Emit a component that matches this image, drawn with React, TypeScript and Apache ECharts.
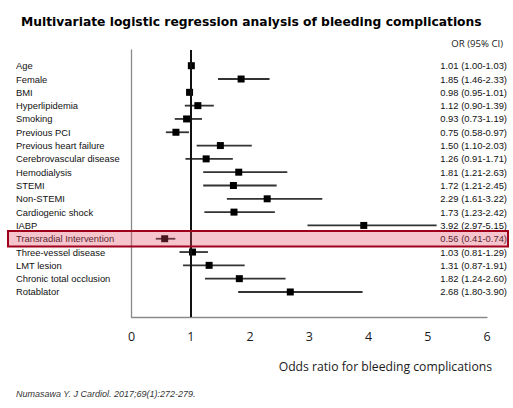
import React, { useEffect, useRef } from "react";
import * as echarts from "echarts";

const labels = [
  "Age", "Female", "BMI", "Hyperlipidemia", "Smoking", "Previous PCI",
  "Previous heart failure", "Cerebrovascular disease", "Hemodialysis", "STEMI",
  "Non-STEMI", "Cardiogenic shock", "IABP", "Transradial Intervention",
  "Three-vessel disease", "LMT lesion", "Chronic total occlusion", "Rotablator",
];
const oddsRatio = [1.01, 1.85, 0.98, 1.12, 0.93, 0.75, 1.50, 1.26, 1.81, 1.72, 2.29, 1.73, 3.92, 0.56, 1.03, 1.31, 1.82, 2.68];
const ciLow = [1.00, 1.46, 0.95, 0.90, 0.73, 0.58, 1.10, 0.91, 1.21, 1.21, 1.61, 1.23, 2.97, 0.41, 0.81, 0.87, 1.24, 1.80];
const ciHigh = [1.03, 2.33, 1.01, 1.39, 1.19, 0.97, 2.03, 1.71, 2.63, 2.45, 3.22, 2.42, 5.15, 0.74, 1.29, 1.91, 2.60, 3.90];
const xTicks = [0, 1, 2, 3, 4, 5, 6];
const highlighted = "Transradial Intervention";
const referenceOR = 1;

const LABEL_FONT = "9.4px 'Liberation Sans', Arial, sans-serif";

export default function App() {
  const ref = useRef<HTMLDivElement>(null);
  useEffect(() => {
    if (!ref.current) return;
    const chart = echarts.init(ref.current, undefined, { renderer: "svg" });
    const rows = labels.map((l, i) => [oddsRatio[i], i, ciLow[i], ciHigh[i], l]);
    const hiIdx = labels.indexOf(highlighted);
    chart.setOption({
      animation: false,
      backgroundColor: "#ffffff",
      title: {
        text: "Multivariate logistic regression analysis of bleeding complications",
        left: 16,
        top: 11,
        textStyle: {
          fontSize: 12.3,
          fontWeight: "bold",
          color: "#000",
          fontFamily: "'DejaVu Sans', Verdana, sans-serif",
        },
      },
      grid: { left: 131.5, right: 26, top: 50, bottom: 91, containLabel: false },
      xAxis: {
        type: "value",
        min: xTicks[0],
        max: xTicks[xTicks.length - 1],
        interval: 1,
        axisLine: { show: true, onZero: false, lineStyle: { color: "#8a8a8a", width: 1.3 } },
        axisTick: { show: false },
        splitLine: { show: false },
        axisLabel: {
          margin: 13,
          fontSize: 12.5,
          color: "#1a1a1a",
          fontFamily: "'Open Sans', sans-serif",
        },
        name: "Odds ratio for bleeding complications",
        nameLocation: "end",
        nameGap: 5,
        nameTextStyle: {
          align: "right",
          verticalAlign: "top",
          padding: [43, 0, 0, 0],
          fontSize: 12.2,
          color: "#1a1a1a",
          fontFamily: "'Open Sans', sans-serif",
        },
      },
      yAxis: {
        type: "value",
        inverse: true,
        min: -1.18,
        max: 18.88,
        axisLine: { show: true, onZero: false, lineStyle: { color: "#8a8a8a", width: 1.3 } },
        axisTick: { show: false },
        axisLabel: { show: false },
        splitLine: { show: false },
      },
      graphic: [
        {
          type: "text",
          right: 10,
          top: 38,
          style: {
            text: "OR (95% CI)",
            font: "9.6px 'Open Sans', sans-serif",
            fill: "#1a1a1a",
          },
        },
        {
          type: "text",
          left: 16,
          top: 389,
          style: {
            text: "Numasawa Y. J Cardiol. 2017;69(1):272-279.",
            font: "italic 9px 'Liberation Sans', Arial, sans-serif",
            fill: "#333",
          },
        },
      ],
      series: [
        {
          type: "custom",
          clip: false,
          z: 2,
          data: rows,
          encode: { x: 0, y: 1 },
          renderItem: (params: any, api: any) => {
            const i = api.value(1);
            const c = api.coord([api.value(0), i]);
            const l = api.coord([api.value(2), i]);
            const h = api.coord([api.value(3), i]);
            const s = 7;
            const idx = params.dataIndex;
            return {
              type: "group",
              children: [
                {
                  type: "line",
                  shape: { x1: l[0], y1: c[1], x2: h[0], y2: c[1] },
                  style: { stroke: "#333", lineWidth: 1.8 },
                },
                {
                  type: "rect",
                  shape: { x: c[0] - s / 2, y: c[1] - s / 2, width: s, height: s },
                  style: { fill: "#000" },
                },
                {
                  type: "text",
                  x: 16,
                  y: c[1],
                  style: {
                    text: labels[idx],
                    font: LABEL_FONT,
                    fill: "#111",
                    align: "left",
                    verticalAlign: "middle",
                  },
                },
                {
                  type: "text",
                  x: 507,
                  y: c[1],
                  style: {
                    text: `${oddsRatio[idx].toFixed(2)} (${ciLow[idx].toFixed(2)}-${ciHigh[idx].toFixed(2)})`,
                    font: LABEL_FONT,
                    fill: "#111",
                    align: "right",
                    verticalAlign: "middle",
                  },
                },
              ],
            };
          },
          markLine: {
            silent: true,
            symbol: "none",
            label: { show: false },
            lineStyle: { color: "#111", width: 2, type: "solid" },
            data: [{ xAxis: referenceOR }],
          },
        },
        {
          type: "custom",
          clip: false,
          z: 5,
          data: [[referenceOR, hiIdx]],
          renderItem: (params: any, api: any) => {
            const c = api.coord([api.value(0), api.value(1)]);
            return {
              type: "rect",
              shape: { x: 8, y: c[1] - 7.7, width: 500, height: 15.4 },
              style: {
                fill: "rgba(225, 70, 100, 0.32)",
                stroke: "#a0001c",
                lineWidth: 2,
              },
            };
          },
        },
      ],
    });
    return () => chart.dispose();
  }, []);
  return (
    <div
      ref={ref}
      style={{ position: "fixed", left: 0, top: 0, width: 513, height: 408 }}
    />
  );
}
